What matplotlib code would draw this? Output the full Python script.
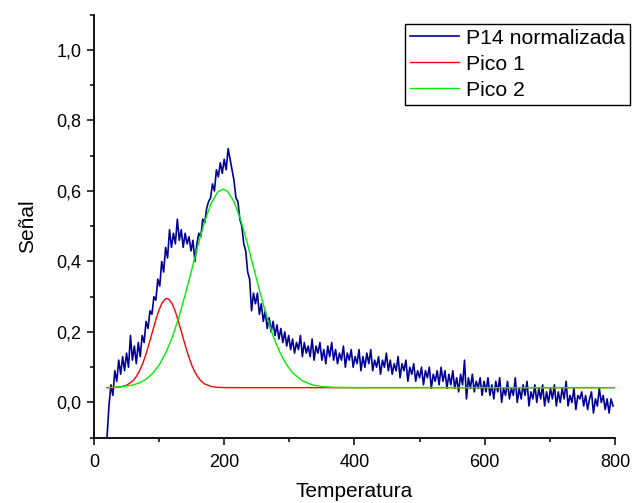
#!/usr/bin/env python3
# -*- coding: utf-8 -*-
"""Señal normalizada P14 con los dos picos ajustados."""
import numpy as np
import matplotlib
matplotlib.use("Agg")
import matplotlib.pyplot as plt
from matplotlib.ticker import MultipleLocator, FuncFormatter

# --- Datos ---
# Temperatura de la señal medida: de 20 a 797, paso 3
TEMP_INICIO = 20
TEMP_PASO = 3
senal_p14 = [
    -0.10, -0.01, 0.05, 0.02, 0.09, 0.06, 0.12, 0.08, 0.13, 0.09,
    0.14, 0.10, 0.19, 0.12, 0.16, 0.11, 0.17, 0.13, 0.19, 0.17,
    0.23, 0.21, 0.26, 0.25, 0.30, 0.29, 0.35, 0.33, 0.40, 0.37,
    0.44, 0.41, 0.49, 0.44, 0.48, 0.45, 0.52, 0.46, 0.49, 0.44,
    0.48, 0.45, 0.47, 0.43, 0.46, 0.40, 0.45, 0.48, 0.47, 0.52,
    0.51, 0.55, 0.57, 0.58, 0.62, 0.60, 0.66, 0.64, 0.68, 0.65,
    0.69, 0.66, 0.72, 0.69, 0.66, 0.63, 0.58, 0.57, 0.52, 0.50,
    0.45, 0.43, 0.37, 0.35, 0.26, 0.31, 0.28, 0.31, 0.25, 0.28,
    0.23, 0.26, 0.21, 0.24, 0.20, 0.23, 0.19, 0.22, 0.18, 0.21,
    0.17, 0.20, 0.16, 0.19, 0.15, 0.18, 0.14, 0.17, 0.15, 0.19,
    0.13, 0.17, 0.14, 0.16, 0.13, 0.18, 0.12, 0.16, 0.14, 0.17,
    0.12, 0.15, 0.11, 0.16, 0.13, 0.17, 0.12, 0.15, 0.11, 0.14,
    0.12, 0.16, 0.10, 0.14, 0.12, 0.15, 0.10, 0.13, 0.11, 0.15,
    0.09, 0.13, 0.10, 0.14, 0.11, 0.15, 0.09, 0.12, 0.10, 0.13,
    0.08, 0.12, 0.10, 0.14, 0.09, 0.12, 0.08, 0.11, 0.09, 0.13,
    0.07, 0.11, 0.09, 0.12, 0.06, 0.10, 0.08, 0.11, 0.06, 0.09,
    0.07, 0.10, 0.05, 0.09, 0.07, 0.10, 0.04, 0.08, 0.06, 0.09,
    0.05, 0.10, 0.06, 0.09, 0.04, 0.08, 0.05, 0.09, 0.04, 0.07,
    0.03, 0.08, 0.05, 0.12, 0.01, 0.07, 0.04, 0.08, 0.03, 0.06,
    0.04, 0.07, 0.02, 0.06, 0.03, 0.07, 0.02, 0.05, 0.01, 0.06,
    0.03, 0.07, 0.00, 0.04, 0.02, 0.06, 0.01, 0.04, 0.02, 0.07,
    0.00, 0.04, 0.01, 0.05, 0.02, 0.06, -0.01, 0.03, 0.01, 0.05,
    0.00, 0.04, 0.01, 0.05, -0.01, 0.03, 0.00, 0.04, 0.01, 0.05,
    -0.01, 0.03, 0.00, 0.04, 0.01, 0.06, -0.01, 0.02, 0.00, 0.04,
    -0.02, 0.02, 0.01, 0.03, -0.01, 0.02, -0.02, 0.01, 0.03, -0.03,
    0.01, -0.01, 0.04, 0.00, 0.02, -0.02, 0.01, -0.03, 0.01, -0.01,
]

# Pico 1 (ajuste)
temp_pico1 = [20, 30, 40, 50, 60, 65, 70, 75, 80, 85, 90, 95, 100, 105,
              110, 112, 115, 120, 125, 130, 135, 140, 145, 150, 155, 160,
              165, 170, 180, 190, 200, 220, 800]
pico1 = [0.042, 0.0424, 0.0439, 0.0487, 0.0616, 0.0734, 0.0898, 0.1113,
         0.138, 0.169, 0.202, 0.2346, 0.263, 0.284, 0.294, 0.295, 0.293,
         0.280, 0.2576, 0.228, 0.1955, 0.163, 0.1324, 0.1066, 0.086,
         0.0707, 0.0598, 0.0525, 0.0452, 0.0428, 0.0422, 0.042, 0.042]

# Pico 2 (ajuste)
temp_pico2 = [22, 40, 60, 70, 80, 90, 100, 110, 120, 130, 140, 150, 160,
              170, 180, 190, 198, 205, 215, 225, 235, 245, 255, 265, 275,
              285, 295, 305, 320, 335, 350, 370, 400, 800]
pico2 = [0.0422, 0.044, 0.0496, 0.0558, 0.0661, 0.0821, 0.106, 0.1396,
         0.184, 0.2397, 0.305, 0.376, 0.448, 0.5135, 0.565, 0.597, 0.605,
         0.599, 0.5694, 0.5194, 0.455, 0.3835, 0.312, 0.2458, 0.1891,
         0.1435, 0.109, 0.0842, 0.0614, 0.050, 0.045, 0.0427, 0.042, 0.042]

plt.rcParams["font.family"] = ["Liberation Sans", "DejaVu Sans"]

temp = TEMP_INICIO + TEMP_PASO * np.arange(len(senal_p14))

fig = plt.figure(figsize=(6.32, 5.03), dpi=100)
ax = fig.add_axes([0.1487, 0.1298, 0.8243, 0.841])

ax.plot(temp, senal_p14, color="#000099", lw=1.2, label="P14 normalizada")
ax.plot(temp_pico1, pico1, color="#ff0000", lw=1.0, label="Pico 1")
ax.plot(temp_pico2, pico2, color="#00ee00", lw=1.0, label="Pico 2")

ax.set_xlim(0, 800)
ax.set_ylim(-0.1, 1.1)
ax.xaxis.set_major_locator(MultipleLocator(200))
ax.xaxis.set_minor_locator(MultipleLocator(100))
ax.yaxis.set_major_locator(MultipleLocator(0.2))
ax.yaxis.set_minor_locator(MultipleLocator(0.1))
ax.yaxis.set_major_formatter(FuncFormatter(lambda v, _: f"{v:.1f}".replace(".", ",")))

for lado in ("top", "right"):
    ax.spines[lado].set_visible(False)
for lado in ("left", "bottom"):
    ax.spines[lado].set_linewidth(1.3)
ax.tick_params(which="major", direction="out", length=5, width=1.1, labelsize=13)
ax.tick_params(which="minor", direction="out", length=3, width=1.1)
ax.tick_params(axis="x", which="major", pad=7)
ax.tick_params(axis="y", which="major", pad=4)

ax.set_xlabel("Temperatura", fontsize=15, labelpad=8)
ax.set_ylabel("Señal", fontsize=15, labelpad=14)

leg = ax.legend(loc="upper right", bbox_to_anchor=(630 / 632, 1 - 24 / 503),
                bbox_transform=fig.transFigure, borderaxespad=0, fontsize=15.3,
                fancybox=False, framealpha=1, edgecolor="black",
                handlelength=2.3, handletextpad=0.33, labelspacing=0.33,
                borderpad=0.23)
leg.get_frame().set_linewidth(1.0)

fig.savefig("out.png", dpi=100)
